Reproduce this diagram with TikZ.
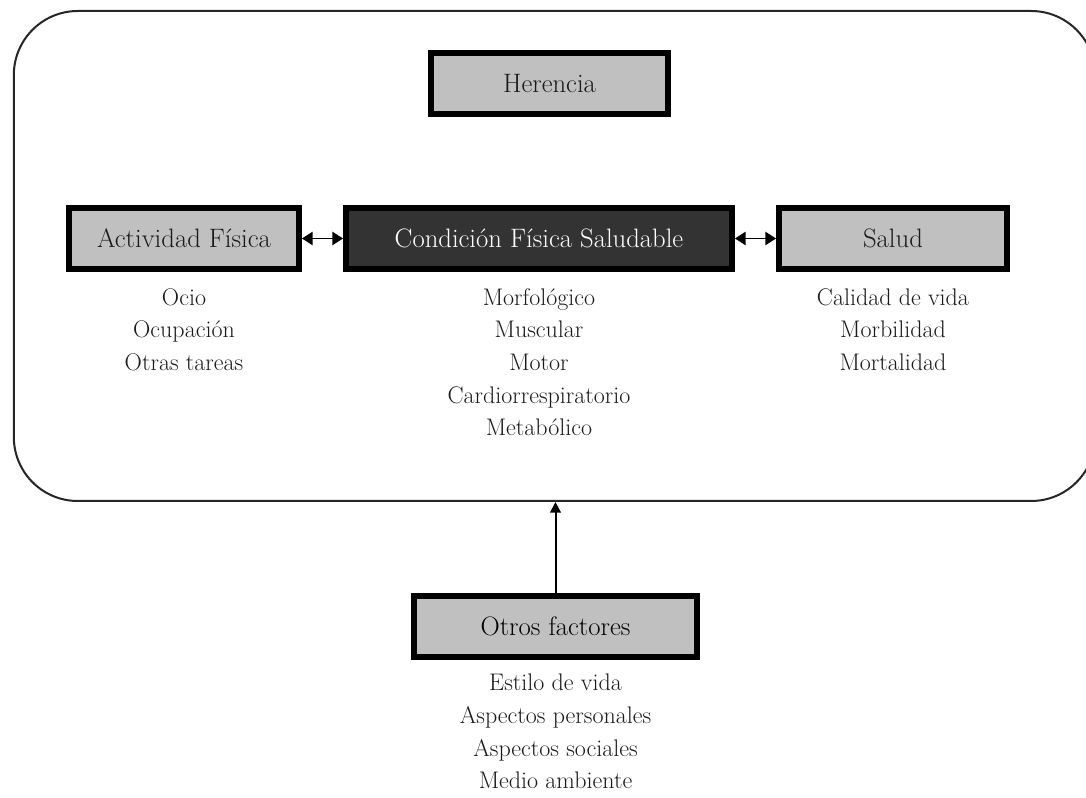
\documentclass[tikz,border=0pt]{standalone}
\usetikzlibrary{arrows.meta}
\definecolor{boxgray}{HTML}{C0C0C0}
\definecolor{darkfill}{HTML}{333333}
\definecolor{txt}{HTML}{1A1A1A}
\begin{document}
\begin{tikzpicture}[x=0.75pt,y=-0.75pt,
  box/.style={draw=black, line width=4.5pt, fill=boxgray, inner sep=0pt,
    minimum height=45.75pt, text=txt, font=\fontsize{20}{24}\selectfont},
  darkbox/.style={box, fill=darkfill, text=white},
  listtext/.style={align=center, inner sep=0pt, anchor=north, text=txt,
    font=\fontsize{18}{24.5}\selectfont},
  frame/.style={draw=black!85, line width=1.5pt, rounded corners=48pt, inner sep=0pt},
  dblarrow/.style={{Triangle[length=8pt,width=10pt]}-{Triangle[length=8pt,width=10pt]}, line width=1.1pt},
  uparrow/.style={-{Triangle[length=8pt,width=8pt]}, line width=1.5pt}
]
\useasboundingbox (0,0) rectangle (1086,798);
\node[frame, minimum width=811pt, minimum height=367.5pt] (frame) at (554.5,256) {};
\node[box, minimum width=177.75pt] (her) at (549.5,84) {Herencia};
\node[box, minimum width=172.5pt] (act) at (184,238.5) {Actividad Física};
\node[darkbox, minimum width=289.5pt] (cond) at (539,238.5) {Condición Física Saludable};
\node[box, minimum width=171pt] (sal) at (893,238.5) {Salud};
\node[box, minimum width=212.25pt, text=black] (otr) at (555.5,626.5) {Otros factores};
\draw[dblarrow] (act.east) -- (cond.west);
\draw[dblarrow] (cond.east) -- (sal.west);
\draw[uparrow] (otr.north) -- (otr.north |- frame.south);
\node[listtext] (actl) at (184,288) {Ocio\\Ocupación\\Otras tareas};
\node[listtext] (condl) at (539,288) {Morfológico\\Muscular\\Motor\\Cardiorrespiratorio\\Metabólico};
\node[listtext] (sall) at (893,288) {Calidad de vida\\Morbilidad\\Mortalidad};
\node[listtext] (otrl) at (555.5,674) {Estilo de vida\\Aspectos personales\\Aspectos sociales\\Medio ambiente};
\end{tikzpicture}
\end{document}
